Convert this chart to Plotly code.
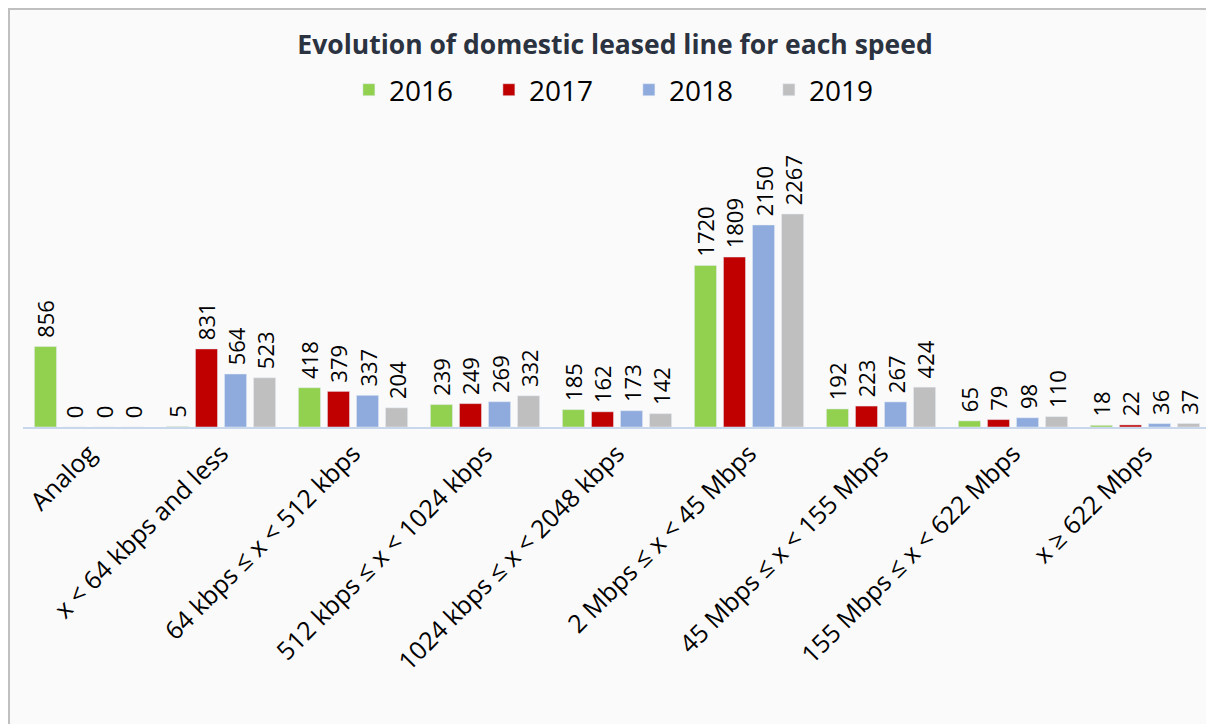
import plotly.graph_objects as go

categories = [
    "Analog",
    "x < 64 kbps and less",
    "64 kbps ≤ x < 512 kbps",
    "512 kbps ≤ x < 1024 kbps",
    "1024 kbps ≤ x < 2048 kbps",
    "2 Mbps ≤ x < 45 Mbps",
    "45 Mbps ≤ x < 155 Mbps",
    "155 Mbps ≤ x < 622 Mbps",
    "x ≥ 622 Mbps",
]
years = ["2016", "2017", "2018", "2019"]
values_2016 = [856, 5, 418, 239, 185, 1720, 192, 65, 18]
values_2017 = [0, 831, 379, 249, 162, 1809, 223, 79, 22]
values_2018 = [0, 564, 337, 269, 173, 2150, 267, 98, 36]
values_2019 = [0, 523, 204, 332, 142, 2267, 424, 110, 37]
colors = ["#92d050", "#c00000", "#8faadc", "#bfbfbf"]

fig = go.Figure()
for year, vals, col in zip(years, [values_2016, values_2017, values_2018, values_2019], colors):
    fig.add_trace(go.Bar(
        name=year,
        x=categories,
        y=vals,
        marker_color=col,
        # leading space gives a small gap between bar top and rotated label
        text=[" " + str(v) for v in vals],
        textposition="outside",
        textangle=-90,
        constraintext="none",
        cliponaxis=False,
        textfont=dict(size=22, color="#000000"),
    ))

fig.update_layout(
    width=1214,
    height=724,
    font=dict(family="Open Sans", color="#000000"),
    title=dict(
        text="<b>Evolution of domestic leased line for each speed</b>",
        x=0.5, xanchor="center", y=0.949, yanchor="middle",
        font=dict(size=26.5, color="#2b3240"),
    ),
    legend=dict(
        orientation="h", x=0.51, xanchor="center", y=1.063, yanchor="middle",
        font=dict(size=28), itemwidth=30, entrywidth=95, entrywidthmode="pixels",
        bgcolor="rgba(0,0,0,0)",
    ),
    barmode="group",
    bargap=0.12,
    bargroupgap=0.24,
    margin=dict(l=15, r=11, t=102, b=305),
    paper_bgcolor="#fafafa",
    plot_bgcolor="rgba(0,0,0,0)",
    xaxis=dict(
        tickangle=-45,
        tickfont=dict(size=25, color="#000000"),
        showline=True, linecolor="#c9d7ec", linewidth=2,
        showgrid=False, ticks="", automargin=False,
    ),
    yaxis=dict(
        range=[0, 3374], visible=False, showgrid=False, zeroline=False,
    ),
    shapes=[dict(
        type="rect", xref="paper", yref="paper",
        x0=-0.0118, x1=1.1, y0=-1.2, y1=1.3186,
        line=dict(color="#bfbfbf", width=2), fillcolor="rgba(0,0,0,0)",
        layer="below",
    )],
)

fig.write_html("out.html")
